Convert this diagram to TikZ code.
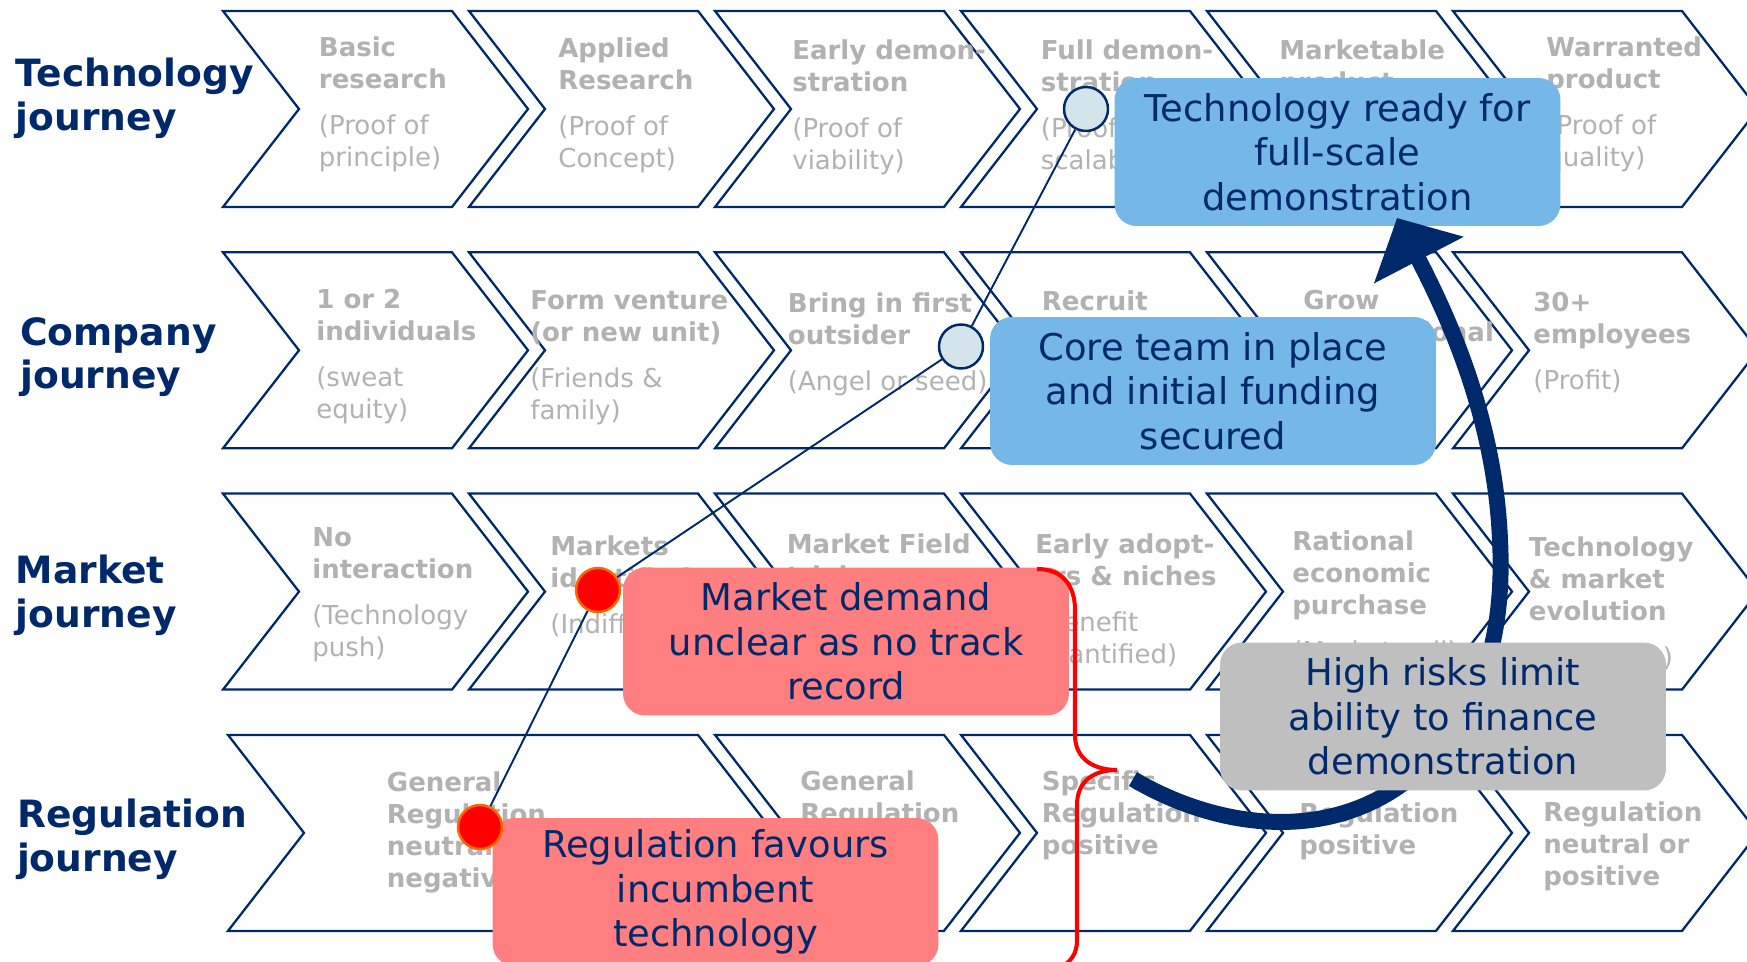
\documentclass[tikz,border=0pt]{standalone}
\usepackage{fontspec}
\setmainfont{DejaVu Sans}
\usepackage{tikz}
\usetikzlibrary{arrows.meta}
\tikzset{>={Triangle[width=56pt,length=27pt]}}
\definecolor{navy}{HTML}{00296B}
\definecolor{stagegrey}{HTML}{B2B2B2}
\definecolor{calloutblue}{HTML}{75B7E7}
\definecolor{calloutpink}{HTML}{FF7F80}
\definecolor{calloutgrey}{HTML}{BFBFBF}
\definecolor{dotblue}{HTML}{D3E5EA}
\definecolor{dotorange}{HTML}{FF6600}
\tikzset{
  chevron/.style={draw=navy, line width=1.3pt, fill=white},
  stage/.style={anchor=north west, inner sep=0pt, align=left, text=stagegrey,
    font=\fontsize{14.8}{18.2}\selectfont},
  journey/.style={anchor=north west, inner sep=0pt, align=left, text=navy,
    font=\fontsize{21.4}{24.6}\selectfont\bfseries},
  callout/.style={rounded corners=0.44cm, minimum width=8.92cm, minimum height=2.96cm,
    inner sep=0pt, align=center, text=navy, font=\fontsize{21}{25.4}\selectfont},
  okdot/.style={circle, draw=navy, fill=dotblue, line width=1.4pt, minimum size=0.88cm, inner sep=0pt},
  baddot/.style={circle, draw=dotorange, fill=red, line width=1.4pt, minimum size=0.88cm, inner sep=0pt},
}

\begin{document}
\begin{tikzpicture}[x=0.02cm,y=-0.02cm]
\newcommand\X{246}
\newcommand\Y{241.3}
\newcommand\chev[3]{\draw[chevron] (#1,#2) -- ++(#3,0) -- ++(76,98) -- ++(-76,98) -- ++(-#3,0) -- ++(76,-98) -- cycle;}
\useasboundingbox (0,0) rectangle (1747,962);

% rows of chevrons
\chev{223+0*\X}{11+0*\Y}{229}
\chev{223+1*\X}{11+0*\Y}{229}
\chev{223+2*\X}{11+0*\Y}{229}
\chev{223+3*\X}{11+0*\Y}{229}
\chev{223+4*\X}{11+0*\Y}{229}
\chev{223+5*\X}{11+0*\Y}{229}

\chev{223+0*\X}{11+1*\Y}{229}
\chev{223+1*\X}{11+1*\Y}{229}
\chev{223+2*\X}{11+1*\Y}{229}
\chev{223+3*\X}{11+1*\Y}{229}
\chev{223+4*\X}{11+1*\Y}{229}
\chev{223+5*\X}{11+1*\Y}{229}

\chev{223+0*\X}{11+2*\Y}{229}
\chev{223+1*\X}{11+2*\Y}{229}
\chev{223+2*\X}{11+2*\Y}{229}
\chev{223+3*\X}{11+2*\Y}{229}
\chev{223+4*\X}{11+2*\Y}{229}
\chev{223+5*\X}{11+2*\Y}{229}

\chev{228}{11+3*\Y}{470}
\chev{223+2*\X}{11+3*\Y}{229}
\chev{223+3*\X}{11+3*\Y}{229}
\chev{223+4*\X}{11+3*\Y}{229}
\chev{223+5*\X}{11+3*\Y}{229}

\node[journey] (techhead) at (15.6,58) {Technology\\journey};
\node[journey] (teamhead) at (20,317) {Company\\journey};
\node[journey] (markethead) at (15.6,555) {Market\\journey};
\node[journey] (reghead) at (16.7,799) {Regulation\\journey};

\node[stage] (basic) at (318.6,36) {\textbf{Basic}\\\textbf{research}\\[8pt](Proof of\\principle)};
\node[stage] (applied) at (558,37) {\textbf{Applied}\\\textbf{Research}\\[8pt](Proof of\\Concept)};
\node[stage] (earlydemo) at (792,39) {\textbf{Early demon-}\\\textbf{stration}\\[8pt](Proof of\\viability)};
\node[stage] (fulldemo) at (1040.5,39) {\textbf{Full demon-}\\\textbf{stration}\\[8pt](Proof of\\scalability)};
\node[stage] (marketable) at (1279,39) {\textbf{Marketable}\\\textbf{product}};
\node[stage] (warranted) at (1546,36) {\textbf{Warranted}\\\textbf{product}\\[8pt](Proof of\\quality)};

\node[stage] (founders) at (316,288.5) {\textbf{1 or 2}\\\textbf{individuals}\\[8pt](sweat\\equity)};
\node[stage] (venture) at (530,290) {\textbf{Form venture}\\\textbf{(or new unit)}\\[8pt](Friends \&\\family)};
\node[stage] (outsider) at (787.6,292) {\textbf{Bring in first}\\\textbf{outsider}\\[8pt](Angel or seed)};
\node[stage] (recruit) at (1041.6,290) {\textbf{Recruit}};
\node[stage] (grow) at (1303,290) {\textbf{Grow}\\\textbf{international}};
\node[stage] (employees) at (1533,292) {\textbf{30+}\\\textbf{employees}\\[8pt](Profit)};

\node[stage] (nointeract) at (312,527) {\textbf{No}\\\textbf{interaction}\\[8pt](Technology\\push)};
\node[stage] (identified) at (550,535) {\textbf{Markets}\\\textbf{identified}\\[8pt](Indifferent)};
\node[stage] (fieldtrial) at (786.5,533) {\textbf{Market Field}\\\textbf{trials}};
\node[stage] (adopters) at (1035,533) {\textbf{Early adopt-}\\\textbf{ers \& niches}\\[8pt](Benefit\\quantified)};
\node[stage] (rational) at (1292,530) {\textbf{Rational}\\\textbf{economic}\\\textbf{purchase}\\[8pt](Market pull)};
\node[stage] (evolution) at (1528.6,536) {\textbf{Technology}\\\textbf{\& market}\\\textbf{evolution}\\[8pt](Feedback)};

\node[stage] (generalneg) at (386.6,771) {\textbf{General}\\\textbf{Regulation}\\\textbf{neutral or}\\\textbf{negative}};
\node[stage] (generalpos) at (800,770) {\textbf{General}\\\textbf{Regulation}};
\node[stage] (specificpos) at (1041.6,770) {\textbf{Specific}\\\textbf{Regulation}\\\textbf{positive}};
\node[stage] (regpos) at (1299,802) {\textbf{Regulation}\\\textbf{positive}};
\node[stage] (regneutral) at (1543,801) {\textbf{Regulation}\\\textbf{neutral or}\\\textbf{positive}};

\node[callout, fill=calloutblue] (techbox) at (1337.5,152) {Technology ready for\\full-scale\\demonstration};
\node[callout, fill=calloutblue] (teambox) at (1213,391) {Core team in place\\and initial funding\\secured};
\node[callout, fill=calloutpink] (marketbox) at (846,641.5) {Market demand\\unclear as no track\\record};
\node[callout, fill=calloutpink] (regbox) at (715.5,892) {Regulation favours\\incumbent\\technology};

\node[okdot] (techdot) at (1086,109) {};
\node[okdot] (teamdot) at (961,346.5) {};
\node[baddot] (marketdot) at (598,590) {};
\node[baddot] (regdot) at (480,827) {};
\draw[navy, line width=1.1pt] (techdot) -- (teamdot) -- (marketdot) -- (regdot);

\coordinate (risktail) at (1133,779);
\coordinate (risktip) at (1397,218);
\draw[->, navy, line width=9.1pt] (risktail) .. controls (1210,825) and (1330,850) .. (1420,770)
  .. controls (1480,715) and (1505,640) .. (1500,540)
  .. controls (1495,420) and (1450,320) .. (risktip);

\node[callout, fill=calloutgrey] (riskbox) at (1443,716.5) {High risks limit\\ability to finance\\demonstration};

% brace
\draw[red, line width=2.3pt] (1037,569) .. controls (1062,569) and (1075,585) .. (1075,610) -- (1075,735)
  .. controls (1075,760) and (1095,770) .. (1117,770) .. controls (1095,770) and (1077,780) .. (1077,805)
  -- (1077,940) .. controls (1077,955) and (1070,962) .. (1060,968);
\end{tikzpicture}
\end{document}
